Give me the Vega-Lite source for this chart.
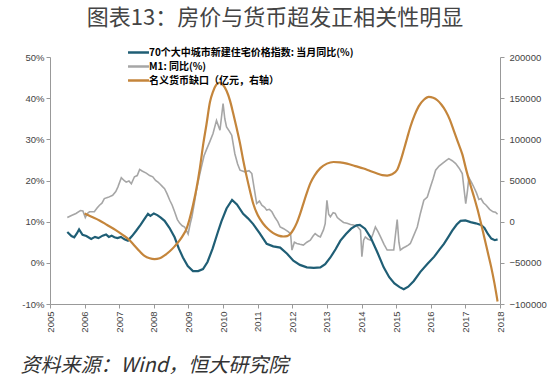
{
"$schema": "https://vega.github.io/schema/vega-lite/v6.json",
"width": 450, "height": 247,
"autosize": {"type": "none"},
"padding": {"left": 50, "top": 57, "right": 50, "bottom": 80},
"background": "white",
"config": {"view": {"stroke": null}, "font": "Liberation Sans",
  "axis": {"domainWidth": 1, "labelFontSize": 9.5, "labelColor": "#444", "domainColor": "#999999", "tickColor": "#999999", "tickSize": 4, "grid": false, "labelFont": "Liberation Sans"}},
"title": {"text": "图表13：房价与货币超发正相关性明显", "font": "Noto Sans CJK SC", "fontSize": 22, "fontWeight": "normal", "color": "#444", "anchor": "middle", "frame": "group", "offset": 16},
"datasets": {
"house": [
{"t":2005.50,"v":7.5},{"t":2005.62,"v":6.5},{"t":2005.70,"v":6.2},{"t":2005.78,"v":7.2},{"t":2005.84,"v":8.1},{"t":2005.94,"v":6.8},{"t":2006.05,"v":6.5},{"t":2006.19,"v":5.8},{"t":2006.30,"v":6.3},{"t":2006.40,"v":6.0},{"t":2006.52,"v":6.6},{"t":2006.62,"v":6.9},{"t":2006.70,"v":6.3},{"t":2006.78,"v":6.6},{"t":2006.86,"v":6.2},{"t":2006.95,"v":6.0},{"t":2007.05,"v":6.3},{"t":2007.15,"v":5.7},{"t":2007.25,"v":5.4},{"t":2007.37,"v":6.5},{"t":2007.49,"v":7.8},{"t":2007.62,"v":9.3},{"t":2007.74,"v":10.8},{"t":2007.83,"v":11.9},{"t":2007.90,"v":11.4},{"t":2008.00,"v":12.0},{"t":2008.10,"v":11.6},{"t":2008.20,"v":11.0},{"t":2008.31,"v":10.2},{"t":2008.45,"v":8.5},{"t":2008.60,"v":6.2},{"t":2008.72,"v":3.5},{"t":2008.84,"v":1.3},{"t":2008.98,"v":-0.8},{"t":2009.13,"v":-2.0},{"t":2009.28,"v":-2.0},{"t":2009.42,"v":-1.5},{"t":2009.55,"v":0.2},{"t":2009.70,"v":3.5},{"t":2009.85,"v":7.5},{"t":2009.95,"v":10.0},{"t":2010.10,"v":13.2},{"t":2010.26,"v":15.3},{"t":2010.40,"v":14.2},{"t":2010.58,"v":11.9},{"t":2010.72,"v":10.8},{"t":2010.87,"v":9.4},{"t":2011.05,"v":7.3},{"t":2011.26,"v":4.6},{"t":2011.45,"v":4.0},{"t":2011.65,"v":3.7},{"t":2011.85,"v":2.2},{"t":2012.03,"v":0.5},{"t":2012.22,"v":-0.5},{"t":2012.42,"v":-1.1},{"t":2012.62,"v":-1.2},{"t":2012.81,"v":-1.1},{"t":2012.95,"v":-0.3},{"t":2013.10,"v":1.3},{"t":2013.25,"v":3.3},{"t":2013.39,"v":5.4},{"t":2013.55,"v":7.0},{"t":2013.70,"v":8.3},{"t":2013.85,"v":9.1},{"t":2013.95,"v":9.2},{"t":2014.10,"v":8.3},{"t":2014.26,"v":6.2},{"t":2014.45,"v":2.7},{"t":2014.64,"v":-1.1},{"t":2014.80,"v":-3.5},{"t":2014.95,"v":-5.0},{"t":2015.10,"v":-5.9},{"t":2015.22,"v":-6.4},{"t":2015.35,"v":-5.8},{"t":2015.51,"v":-4.4},{"t":2015.70,"v":-2.2},{"t":2015.90,"v":-0.3},{"t":2016.10,"v":1.5},{"t":2016.25,"v":3.2},{"t":2016.38,"v":4.6},{"t":2016.50,"v":6.2},{"t":2016.62,"v":7.8},{"t":2016.75,"v":9.3},{"t":2016.86,"v":10.2},{"t":2017.00,"v":10.3},{"t":2017.15,"v":9.9},{"t":2017.30,"v":9.6},{"t":2017.45,"v":9.2},{"t":2017.55,"v":8.5},{"t":2017.65,"v":7.0},{"t":2017.75,"v":5.9},{"t":2017.85,"v":5.5},{"t":2017.93,"v":5.7}
],
"m1": [
{"t":2005.50,"v":11.0},{"t":2005.62,"v":11.5},{"t":2005.75,"v":12.0},{"t":2005.88,"v":12.7},{"t":2005.95,"v":12.6},{"t":2006.02,"v":11.0},{"t":2006.08,"v":12.0},{"t":2006.14,"v":12.4},{"t":2006.28,"v":12.4},{"t":2006.36,"v":13.3},{"t":2006.43,"v":14.0},{"t":2006.50,"v":14.5},{"t":2006.57,"v":15.6},{"t":2006.68,"v":15.9},{"t":2006.81,"v":16.4},{"t":2006.90,"v":17.3},{"t":2006.96,"v":18.4},{"t":2007.06,"v":20.7},{"t":2007.14,"v":20.0},{"t":2007.20,"v":19.6},{"t":2007.28,"v":19.9},{"t":2007.35,"v":19.2},{"t":2007.44,"v":20.9},{"t":2007.52,"v":21.2},{"t":2007.59,"v":22.7},{"t":2007.66,"v":22.3},{"t":2007.78,"v":21.8},{"t":2007.88,"v":21.2},{"t":2007.97,"v":20.9},{"t":2008.05,"v":20.0},{"t":2008.12,"v":19.6},{"t":2008.17,"v":19.2},{"t":2008.25,"v":18.5},{"t":2008.31,"v":18.0},{"t":2008.38,"v":16.8},{"t":2008.46,"v":15.2},{"t":2008.53,"v":14.0},{"t":2008.60,"v":12.4},{"t":2008.68,"v":10.5},{"t":2008.75,"v":9.6},{"t":2008.82,"v":9.0},{"t":2008.89,"v":8.7},{"t":2008.99,"v":7.0},{"t":2009.05,"v":9.5},{"t":2009.10,"v":11.2},{"t":2009.17,"v":14.5},{"t":2009.23,"v":17.6},{"t":2009.30,"v":20.5},{"t":2009.38,"v":23.5},{"t":2009.45,"v":26.0},{"t":2009.52,"v":27.5},{"t":2009.62,"v":29.5},{"t":2009.71,"v":31.4},{"t":2009.81,"v":34.6},{"t":2009.91,"v":32.2},{"t":2010.00,"v":38.7},{"t":2010.05,"v":35.0},{"t":2010.10,"v":33.0},{"t":2010.18,"v":32.0},{"t":2010.25,"v":31.0},{"t":2010.34,"v":26.5},{"t":2010.42,"v":24.0},{"t":2010.49,"v":22.5},{"t":2010.63,"v":22.1},{"t":2010.75,"v":22.4},{"t":2010.83,"v":21.7},{"t":2010.90,"v":18.0},{"t":2010.97,"v":14.4},{"t":2011.05,"v":15.0},{"t":2011.12,"v":14.0},{"t":2011.20,"v":13.5},{"t":2011.26,"v":12.8},{"t":2011.34,"v":13.0},{"t":2011.41,"v":12.4},{"t":2011.50,"v":11.0},{"t":2011.58,"v":10.0},{"t":2011.65,"v":8.7},{"t":2011.75,"v":8.3},{"t":2011.89,"v":7.5},{"t":2011.95,"v":7.0},{"t":2011.99,"v":3.1},{"t":2012.06,"v":5.0},{"t":2012.13,"v":4.7},{"t":2012.22,"v":4.5},{"t":2012.32,"v":4.3},{"t":2012.42,"v":5.0},{"t":2012.52,"v":5.5},{"t":2012.60,"v":6.5},{"t":2012.66,"v":7.1},{"t":2012.75,"v":6.5},{"t":2012.81,"v":6.3},{"t":2012.90,"v":8.0},{"t":2012.95,"v":9.5},{"t":2013.00,"v":15.2},{"t":2013.05,"v":11.8},{"t":2013.10,"v":11.2},{"t":2013.18,"v":12.2},{"t":2013.24,"v":12.0},{"t":2013.30,"v":11.0},{"t":2013.39,"v":10.4},{"t":2013.48,"v":9.8},{"t":2013.58,"v":9.6},{"t":2013.68,"v":9.3},{"t":2013.77,"v":9.2},{"t":2013.88,"v":8.8},{"t":2013.97,"v":7.9},{"t":2014.01,"v":1.5},{"t":2014.06,"v":5.5},{"t":2014.11,"v":6.3},{"t":2014.18,"v":5.8},{"t":2014.26,"v":5.5},{"t":2014.33,"v":7.0},{"t":2014.40,"v":8.7},{"t":2014.48,"v":7.5},{"t":2014.55,"v":6.3},{"t":2014.65,"v":4.5},{"t":2014.74,"v":3.1},{"t":2014.85,"v":3.1},{"t":2014.93,"v":3.1},{"t":2015.03,"v":10.5},{"t":2015.08,"v":5.0},{"t":2015.12,"v":3.1},{"t":2015.20,"v":3.6},{"t":2015.27,"v":3.9},{"t":2015.35,"v":4.3},{"t":2015.41,"v":4.7},{"t":2015.50,"v":6.5},{"t":2015.61,"v":8.7},{"t":2015.70,"v":12.0},{"t":2015.80,"v":15.2},{"t":2015.90,"v":16.0},{"t":2015.99,"v":18.4},{"t":2016.07,"v":20.5},{"t":2016.14,"v":22.5},{"t":2016.24,"v":23.5},{"t":2016.33,"v":24.1},{"t":2016.45,"v":24.9},{"t":2016.52,"v":25.3},{"t":2016.62,"v":24.8},{"t":2016.72,"v":24.1},{"t":2016.82,"v":23.0},{"t":2016.91,"v":21.7},{"t":2016.96,"v":18.0},{"t":2017.01,"v":14.4},{"t":2017.06,"v":17.5},{"t":2017.10,"v":20.7},{"t":2017.18,"v":19.5},{"t":2017.25,"v":18.3},{"t":2017.32,"v":17.0},{"t":2017.39,"v":15.4},{"t":2017.45,"v":15.6},{"t":2017.52,"v":14.6},{"t":2017.60,"v":14.0},{"t":2017.70,"v":13.0},{"t":2017.80,"v":12.4},{"t":2017.87,"v":12.3},{"t":2017.93,"v":11.8}
],
"gap": [
{"t":2006.00,"v":10000},{"t":2006.20,"v":6000},{"t":2006.43,"v":1500},{"t":2006.65,"v":-4000},{"t":2006.91,"v":-10500},{"t":2007.10,"v":-16000},{"t":2007.30,"v":-22500},{"t":2007.45,"v":-29500},{"t":2007.59,"v":-36000},{"t":2007.73,"v":-41500},{"t":2007.88,"v":-44500},{"t":2008.02,"v":-45500},{"t":2008.17,"v":-44500},{"t":2008.31,"v":-41000},{"t":2008.46,"v":-36000},{"t":2008.60,"v":-30000},{"t":2008.75,"v":-22500},{"t":2008.85,"v":-16000},{"t":2008.94,"v":-9000},{"t":2009.03,"v":3000},{"t":2009.13,"v":20000},{"t":2009.23,"v":40000},{"t":2009.33,"v":65000},{"t":2009.43,"v":95000},{"t":2009.52,"v":118000},{"t":2009.62,"v":145000},{"t":2009.71,"v":158000},{"t":2009.80,"v":166000},{"t":2009.90,"v":169000},{"t":2010.00,"v":166000},{"t":2010.10,"v":159000},{"t":2010.20,"v":147000},{"t":2010.29,"v":132000},{"t":2010.39,"v":114000},{"t":2010.49,"v":95000},{"t":2010.58,"v":75000},{"t":2010.68,"v":55000},{"t":2010.78,"v":37000},{"t":2010.87,"v":22000},{"t":2011.00,"v":8000},{"t":2011.16,"v":-2500},{"t":2011.30,"v":-9000},{"t":2011.45,"v":-14000},{"t":2011.60,"v":-17000},{"t":2011.74,"v":-18000},{"t":2011.85,"v":-17500},{"t":2011.94,"v":-15000},{"t":2012.04,"v":-9000},{"t":2012.13,"v":-1500},{"t":2012.23,"v":10000},{"t":2012.32,"v":22000},{"t":2012.42,"v":35000},{"t":2012.52,"v":46500},{"t":2012.65,"v":56500},{"t":2012.81,"v":65000},{"t":2013.00,"v":70500},{"t":2013.19,"v":72500},{"t":2013.38,"v":72000},{"t":2013.58,"v":70500},{"t":2013.82,"v":67500},{"t":2014.06,"v":64500},{"t":2014.25,"v":61500},{"t":2014.45,"v":58500},{"t":2014.60,"v":56500},{"t":2014.74,"v":56000},{"t":2014.88,"v":57500},{"t":2015.03,"v":63000},{"t":2015.12,"v":73000},{"t":2015.22,"v":87000},{"t":2015.32,"v":102000},{"t":2015.41,"v":115000},{"t":2015.53,"v":129000},{"t":2015.65,"v":140000},{"t":2015.80,"v":148000},{"t":2015.94,"v":151500},{"t":2016.07,"v":150500},{"t":2016.19,"v":147500},{"t":2016.31,"v":142000},{"t":2016.43,"v":134500},{"t":2016.55,"v":124000},{"t":2016.67,"v":110000},{"t":2016.79,"v":96000},{"t":2016.91,"v":82000},{"t":2017.03,"v":62000},{"t":2017.15,"v":44000},{"t":2017.25,"v":30000},{"t":2017.35,"v":15000},{"t":2017.45,"v":-2000},{"t":2017.54,"v":-18000},{"t":2017.64,"v":-36000},{"t":2017.74,"v":-54000},{"t":2017.84,"v":-75000},{"t":2017.93,"v":-97000}
]
},
"layer": [
 {"layer": [
   {"data": {"name": "m1"},
    "mark": {"type": "line", "strokeWidth": 1.6},
    "encoding": {
      "x": {"field": "t", "type": "quantitative", "scale": {"domain": [2005, 2018], "nice": false, "zero": false},
            "axis": {"orient": "bottom", "values": [2005,2006,2007,2008,2009,2010,2011,2012,2013,2014,2015,2016,2017,2018], "format": "d", "labelAngle": -90, "labelPadding": 3,
                     "title": "资料来源：Wind，恒大研究院", "titleFont": "Noto Sans CJK SC", "titleFontSize": 20, "titleFontStyle": "italic", "titleFontWeight": "normal", "titleColor": "#333", "titleAnchor": "start", "titleAlign": "left", "titleBaseline": "middle", "titleX": -30, "titleY": 61}},
      "y": {"field": "v", "type": "quantitative", "scale": {"domain": [-10, 50], "nice": false, "zero": false},
            "axis": {"values": [-10,0,10,20,30,40,50], "labelExpr": "datum.value + '%'", "title": null}},
      "color": {"datum": "M1: 同比(%)"}
    }},
   {"data": {"name": "house"},
    "mark": {"type": "line", "strokeWidth": 2.2},
    "encoding": {
      "x": {"field": "t", "type": "quantitative", "scale": {"domain": [2005, 2018], "nice": false, "zero": false},
            "axis": {"orient": "bottom", "values": [2005,2006,2007,2008,2009,2010,2011,2012,2013,2014,2015,2016,2017,2018], "format": "d", "labelAngle": -90, "labelPadding": 3,
                     "title": "资料来源：Wind，恒大研究院", "titleFont": "Noto Sans CJK SC", "titleFontSize": 20, "titleFontStyle": "italic", "titleFontWeight": "normal", "titleColor": "#333", "titleAnchor": "start", "titleAlign": "left", "titleBaseline": "middle", "titleX": -30, "titleY": 61}},
      "y": {"field": "v", "type": "quantitative", "scale": {"domain": [-10, 50], "nice": false, "zero": false},
            "axis": {"values": [-10,0,10,20,30,40,50], "labelExpr": "datum.value + '%'", "title": null}},
      "color": {"datum": "70个大中城市新建住宅价格指数: 当月同比(%)"}
    }}
  ]
 },
 {"data": {"name": "gap"},
  "mark": {"type": "line", "strokeWidth": 2.2, "interpolate": "monotone"},
  "encoding": {
    "x": {"field": "t", "type": "quantitative", "scale": {"domain": [2005, 2018], "nice": false, "zero": false},
          "axis": {"orient": "bottom", "values": [2005,2006,2007,2008,2009,2010,2011,2012,2013,2014,2015,2016,2017,2018], "format": "d", "labelAngle": -90, "labelPadding": 3,
                   "title": "资料来源：Wind，恒大研究院", "titleFont": "Noto Sans CJK SC", "titleFontSize": 20, "titleFontStyle": "italic", "titleFontWeight": "normal", "titleColor": "#333", "titleAnchor": "start", "titleAlign": "left", "titleBaseline": "middle", "titleX": -30, "titleY": 61}},
    "y": {"field": "v", "type": "quantitative", "scale": {"domain": [-100000, 200000], "nice": false, "zero": false},
          "axis": {"orient": "right", "values": [-100000,-50000,0,50000,100000,150000,200000], "format": "d", "title": null, "labelPadding": 5}},
    "color": {"datum": "名义货币缺口（亿元，右轴）",
              "scale": {"domain": ["70个大中城市新建住宅价格指数: 当月同比(%)", "M1: 同比(%)", "名义货币缺口（亿元，右轴）"], "range": ["#1f5e75", "#a6a6a6", "#c4853b"]},
              "legend": {"orient": "none", "legendX": 82, "legendY": -11, "title": null, "symbolType": "M-2,0H2", "symbolSize": 110, "symbolStrokeWidth": 2.5, "labelFont": "Noto Sans CJK SC", "labelFontSize": 10, "labelFontWeight": "bold", "labelColor": "#000", "rowPadding": 2, "labelOffset": 4, "labelLimit": 400}}
  }}
],
"resolve": {"scale": {"y": "independent"}}
}
